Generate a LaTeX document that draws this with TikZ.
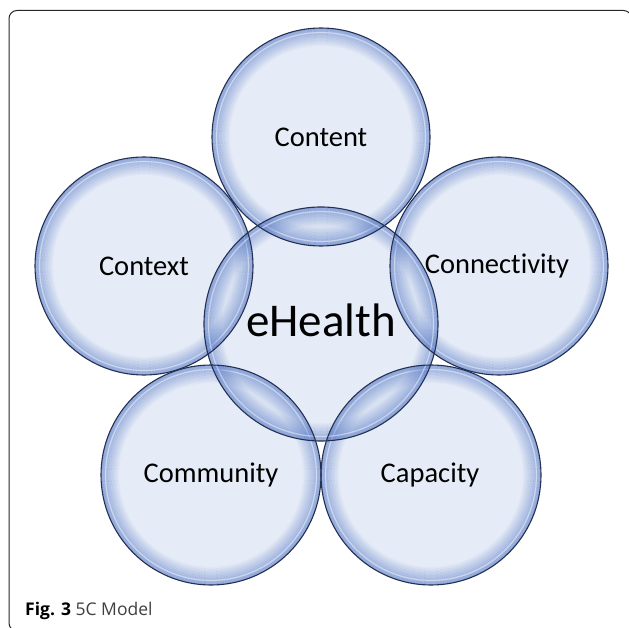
\documentclass[tikz,border=0pt]{standalone}
\usepackage{fontspec}
\setmainfont{Carlito}[Ligatures=NoCommon]
\newfontfamily\capfont{Open Sans}
\definecolor{glassfill}{RGB}{201,213,238}
\definecolor{glowblue}{RGB}{85,120,198}
\definecolor{rimcol}{RGB}{35,48,82}
\definecolor{framecol}{RGB}{40,40,40}
\newcommand\glassglow[3]{%
  \begin{scope}
    \clip (#1,#2) circle[radius=#3];
    \foreach \k in {0,...,11}{%
      \pgfmathsetmacro\op{0.55*(1-\k/12)}%
      \draw[glowblue, line width=1.6pt, opacity=\op] (#1,#2) circle[radius={#3-0.8-1.5*\k}];
    }
    \draw[white, line width=1.2pt, opacity=0.45] (#1,#2) circle[radius={#3-4.5}];
  \end{scope}}
\tikzset{
  glass/.style={fill=glassfill, fill opacity=0.45},
  rim/.style={draw=rimcol, line width=1.1pt},
  lbl/.style={font=\fontsize{28.5}{32}\selectfont, text=black, inner sep=0pt},
  biglbl/.style={font=\fontsize{47}{52}\selectfont, text=black, inner sep=0pt}
}
\begin{document}
\begin{tikzpicture}[x=1pt,y=-1pt]
\useasboundingbox (0,0) rectangle (629,628);
\fill[white] (0,0) rectangle (629,628);
\draw[framecol, line width=1pt, rounded corners=8pt] (9,10.5) rectangle (631.5,631);
% fills
\foreach \cx/\cy/\r in {321/137/109, 144/266/109, 499/266/109, 211/475/110, 431/475/110, 321/324/117}{
  \fill[glass] (\cx,\cy) circle[radius=\r];
}
% glows
\foreach \cx/\cy/\r in {321/137/109, 144/266/109, 499/266/109, 211/475/110, 431/475/110, 321/324/117}{
  \glassglow{\cx}{\cy}{\r}
}
% rims
\foreach \cx/\cy/\r in {321/137/109, 144/266/109, 499/266/109, 211/475/110, 431/475/110, 321/324/117}{
  \draw[rim] (\cx,\cy) circle[radius=\r];
}
\node[lbl] (content) at (321,137) {Content};
\node[lbl] (context) at (144,266) {Context};
\node[lbl] (connectivity) at (497,266) {Connectivity};
\node[lbl] (community) at (211,475) {Community};
\node[lbl] (capacity) at (430,475) {Capacity};
\node[biglbl] (ehealth) at (321,320) {eHealth};
\node[anchor=base west, inner sep=0pt, font=\capfont\fontsize{17.5}{20}\selectfont] (caption) at (25,615) {\textbf{Fig. 3} {\color{black!75}5C Model}};
\end{tikzpicture}
\end{document}
